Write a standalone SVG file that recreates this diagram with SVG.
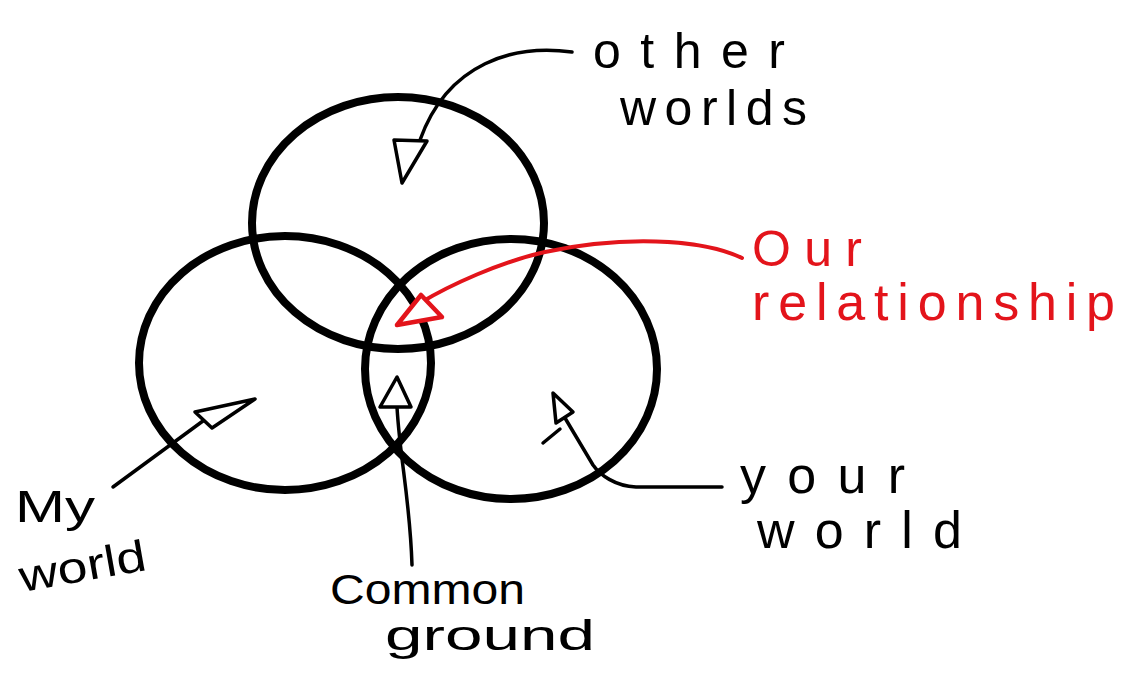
<svg xmlns="http://www.w3.org/2000/svg" width="1123" height="675" viewBox="0 0 1123 675">
<style>
.c{fill:none;stroke:#000;stroke-width:8}
.ln{fill:none;stroke:#000;stroke-width:3.5;stroke-linecap:round;stroke-linejoin:round}
.hd{fill:#fff;stroke:#000;stroke-width:3.5;stroke-linejoin:round}
.t{font-family:"Liberation Sans",Arial,sans-serif;fill:#000}
.r{fill:#e3141b}
</style>
<rect width="1123" height="675" fill="#fff"/>
<g id="circle-top"><ellipse class="c" cx="398" cy="223" rx="146" ry="126"/></g>
<g id="circle-left"><ellipse class="c" cx="285" cy="363" rx="146" ry="127"/></g>
<g id="circle-right"><ellipse class="c" cx="511" cy="369" rx="146" ry="130"/></g>
<g id="connectors">
  <path class="ln" d="M572 52 C515 44 448 62 420 140"/>
  <polygon class="hd" points="394,140 427,141 402,183"/>
  <path d="M742 258 C700 238 620 236 545 252 C500 262 450 285 420 303" fill="none" stroke="#e3141b" stroke-width="4" stroke-linecap="round"/>
  <polygon points="421,295 442,317 397,325" fill="#fff" stroke="#e3141b" stroke-width="4.5" stroke-linejoin="round"/>
  <path class="ln" d="M113 487 L207 418"/>
  <polygon class="hd" points="255,399 195,412 212,428"/>
  <path class="ln" d="M412 565 C410 500 400 460 397 407"/>
  <polygon class="hd" points="397,377 380,407 411,407"/>
  <path class="ln" d="M722 487 L636 487 C615 486 600 475 593 465 L565 418"/>
  <polygon class="hd" points="553,393 556,423 573,412"/>
  <path class="ln" d="M543 443 L560 429"/>
</g>
<g id="label-other-worlds">
  <text class="t" x="593" y="68" font-size="50" textLength="192" lengthAdjust="spacing">other</text>
  <text class="t" x="620" y="125" font-size="50" textLength="187" lengthAdjust="spacing">worlds</text>
</g>
<g id="label-our-relationship">
  <text class="t r" x="752" y="266" font-size="50" textLength="110" lengthAdjust="spacing">Our</text>
  <text class="t r" x="752" y="320" font-size="52" textLength="363" lengthAdjust="spacing">relationship</text>
</g>
<g id="label-my-world">
  <text class="t" x="15" y="522" font-size="44" textLength="80" lengthAdjust="spacingAndGlyphs">My</text>
  <text class="t" x="22" y="592" font-size="44" textLength="128" lengthAdjust="spacingAndGlyphs" transform="rotate(-10 22 592)">world</text>
</g>
<g id="label-common-ground">
  <text class="t" x="330" y="604" font-size="42" textLength="195" lengthAdjust="spacingAndGlyphs">Common</text>
  <text class="t" x="385" y="650" font-size="42" textLength="210" lengthAdjust="spacingAndGlyphs">ground</text>
</g>
<g id="label-your-world">
  <text class="t" x="740" y="493" font-size="52" textLength="165" lengthAdjust="spacing">your</text>
  <text class="t" x="757" y="548" font-size="52" textLength="205" lengthAdjust="spacing">world</text>
</g>
</svg>
